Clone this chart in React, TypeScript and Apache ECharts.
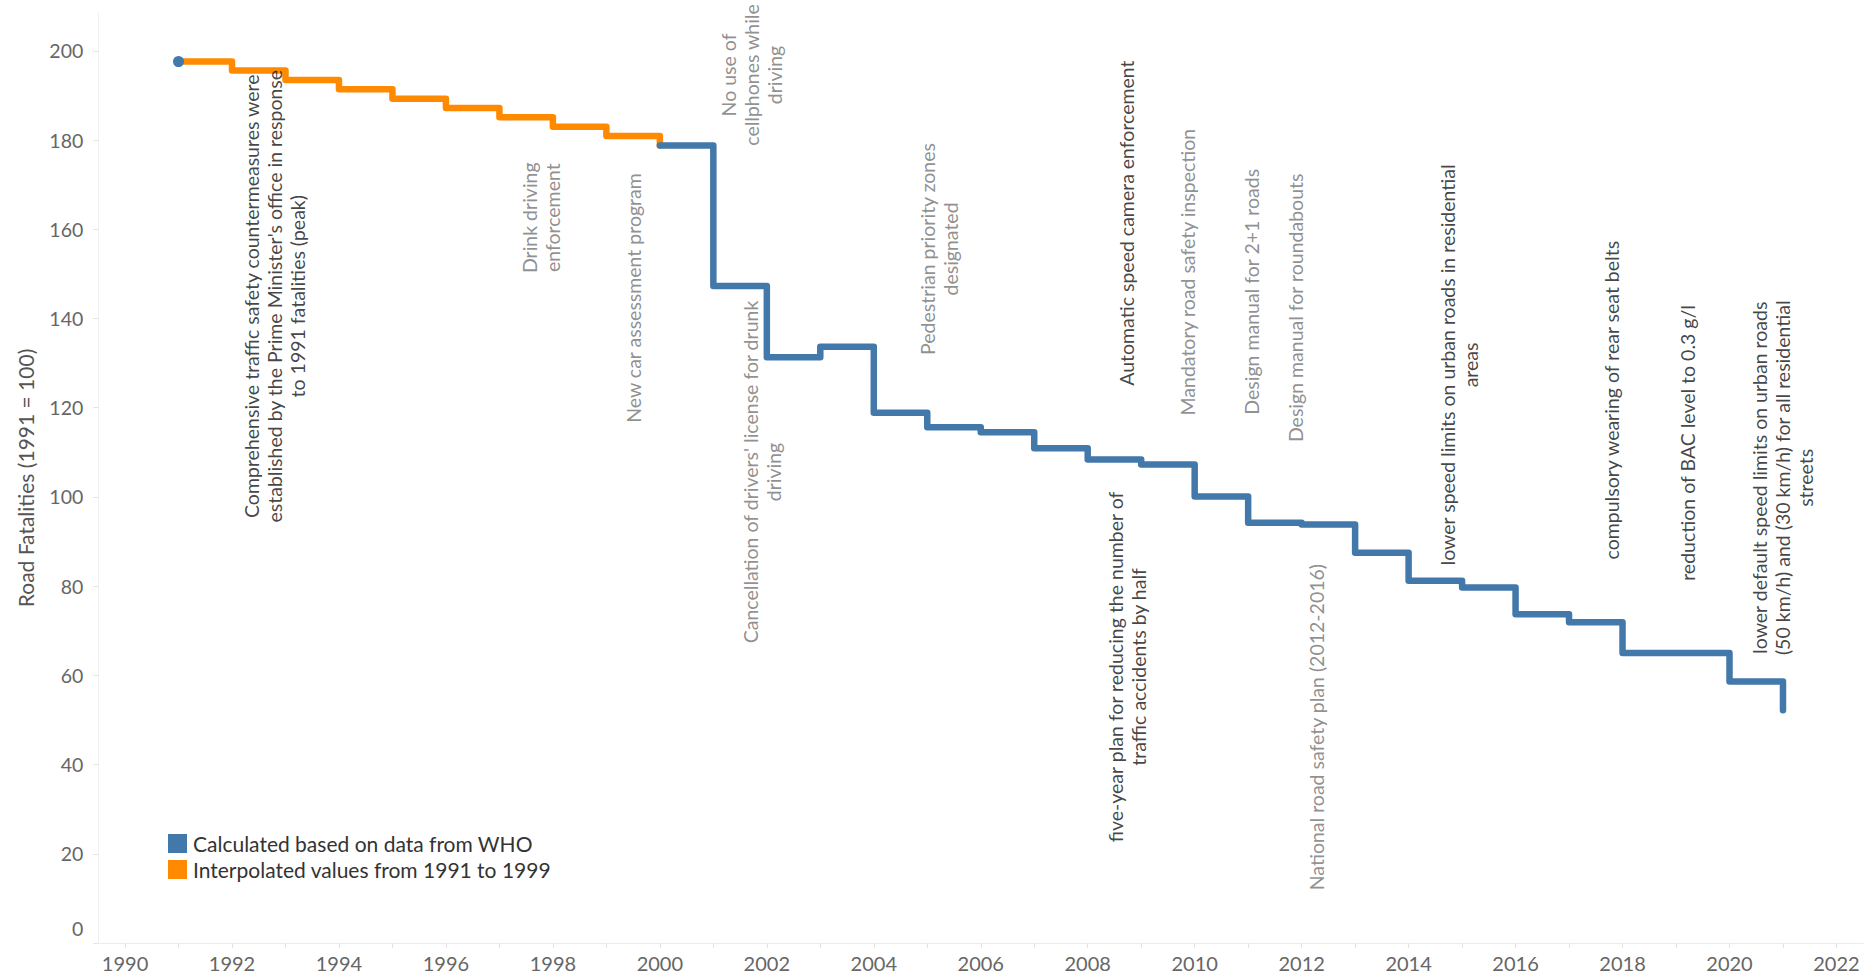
import React, { useEffect, useRef } from "react";
import * as echarts from "echarts";

const years: string[] = [
  "1990", "1991", "1992", "1993", "1994", "1995", "1996", "1997", "1998", "1999",
  "2000", "2001", "2002", "2003", "2004", "2005", "2006", "2007", "2008", "2009",
  "2010", "2011", "2012", "2013", "2014", "2015", "2016", "2017", "2018", "2019",
  "2020", "2021", "2022",
];

// Interpolated values 1991 → 2000 (index 0 = 1990)
const interpolated: (number | null)[] = [
  null, 197.6, 195.6, 193.5, 191.4, 189.3, 187.2, 185.1, 183.0, 180.9,
  178.8,
];

// WHO based values 2000 → 2021 (index 0 = 1990)
const who: (number | null)[] = [
  null, null, null, null, null, null, null, null, null, null,
  178.8, 147.3, 131.3, 133.7, 118.9, 115.6, 114.5, 110.9, 108.4, 107.3,
  100.1, 94.2, 93.8, 87.5, 81.2, 79.7, 73.7, 71.9, 65.0, 65.0,
  58.6, 52.2,
];

// WHO value for the 1991 base year, drawn as a point
const whoBase: [string, number][] = [["1991", 197.6]];

const yTicks: number[] = [0, 20, 40, 60, 80, 100, 120, 140, 160, 180, 200];

const seriesNames = {
  who: "Calculated based on data from WHO",
  interp: "Interpolated values from 1991 to 1999",
};

const DARK = "#141414";
const GRAY = "#737373";

type Note = { text: string; year: number; at: number; dark: boolean };

const notes: Note[] = [
  { text: "Comprehensive traffic safety countermeasures were\nestablished by the Prime Minister's office in response\nto 1991 fatalities (peak)", year: 1992.8, at: 145.0, dark: true },
  { text: "Drink driving\nenforcement", year: 1997.77, at: 162.6, dark: false },
  { text: "New car assessment program", year: 1999.5, at: 144.6, dark: false },
  { text: "No use of\ncellphones while\ndriving", year: 2001.71, at: 194.6, dark: false },
  { text: "Cancellation of drivers' license for drunk\ndriving", year: 2001.91, at: 105.6, dark: false },
  { text: "Pedestrian priority zones\ndesignated", year: 2005.22, at: 155.6, dark: false },
  { text: "Automatic speed camera enforcement", year: 2008.73, at: 161.4, dark: true },
  { text: "five-year plan for reducing the number of\ntraffic accidents by half", year: 2008.73, at: 61.9, dark: true },
  { text: "Mandatory road safety inspection", year: 2009.86, at: 150.4, dark: false },
  { text: "Design manual for 2+1 roads", year: 2011.07, at: 146.0, dark: false },
  { text: "Design manual for roundabouts", year: 2011.88, at: 142.4, dark: false },
  { text: "National road safety plan (2012-2016)", year: 2012.27, at: 48.4, dark: false },
  { text: "lower speed limits on urban roads in residential\nareas", year: 2014.94, at: 129.6, dark: true },
  { text: "compulsory wearing of rear seat belts", year: 2017.79, at: 121.7, dark: true },
  { text: "reduction of BAC level to 0.3 g/l", year: 2019.22, at: 112.1, dark: true },
  { text: "lower default speed limits on urban roads\n(50 km/h) and (30 km/h) for all residential\nstreets", year: 2021.0, at: 104.3, dark: true },
];

const FONT = "Lato";
const BLUE = "#4378aa";
const ORANGE = "#ff8a00";

export default function App() {
  const ref = useRef<HTMLDivElement>(null);

  useEffect(() => {
    document.body.style.margin = "0";
    if (!ref.current) return;
    const chart = echarts.init(ref.current, undefined, { renderer: "svg" });

    chart.setOption({
      animation: false,
      backgroundColor: "#ffffff",
      textStyle: { fontFamily: FONT },
      grid: { left: 98.3, right: 4.8, top: 13, bottom: 33, containLabel: false },
      legend: {
        orient: "vertical",
        left: 163,
        top: 828,
        itemWidth: 19,
        itemHeight: 19,
        itemGap: 5,
        icon: "rect",
        selectedMode: false,
        textStyle: { fontSize: 21, color: "#333333", fontFamily: FONT, padding: [0, 0, 0, 1] },
        data: [
          { name: seriesNames.who, itemStyle: { color: BLUE } },
          { name: seriesNames.interp, itemStyle: { color: ORANGE } },
        ],
      },
      xAxis: [
        {
          type: "category",
          data: years,
          boundaryGap: true,
          axisLine: { show: true, lineStyle: { color: "#ececec", width: 1 } },
          axisTick: { show: true, interval: 0, alignWithLabel: true, length: 5, lineStyle: { color: "#e3e3e3" } },
          axisLabel: { interval: 1, fontSize: 20, color: "#666666", margin: 10, fontFamily: FONT },
          splitLine: { show: false },
        },
        {
          type: "value",
          min: 1989.5,
          max: 2022.5,
          show: false,
          splitLine: { show: false },
        },
      ],
      yAxis: {
        type: "value",
        min: 0,
        max: 208.5,
        interval: 20,
        name: "Road Fatalities (1991 = 100)",
        nameLocation: "middle",
        nameRotate: 90,
        nameGap: 62,
        nameTextStyle: { fontSize: 21, color: "#555555", fontFamily: FONT },
        axisLine: { show: true, lineStyle: { color: "#f0f0f0", width: 1 } },
        axisTick: { show: true, length: 5, lineStyle: { color: "#e3e3e3" } },
        splitLine: { show: false },
        axisLabel: {
          fontSize: 19.5,
          color: "#666666",
          margin: 15,
          fontFamily: FONT,
          showMaxLabel: false,
          formatter: (v: number) => {
            if (!yTicks.includes(v)) return "";
            return v === 0 ? "{z|0}" : String(v);
          },
          rich: { z: { fontSize: 19.5, color: "#666666", fontFamily: FONT, padding: [0, 0, 30, 0] } },
        },
      },
      series: [
        {
          name: seriesNames.interp,
          type: "line",
          step: "end",
          data: interpolated,
          symbol: "none",
          connectNulls: false,
          color: ORANGE,
          lineStyle: { color: ORANGE, width: 6.5, cap: "round", join: "round" },
          z: 2,
        },
        {
          name: seriesNames.who,
          type: "line",
          step: "end",
          data: who,
          symbol: "none",
          connectNulls: false,
          color: BLUE,
          lineStyle: { color: BLUE, width: 6.5, cap: "round", join: "round" },
          z: 3,
        },
        {
          name: "whoBase",
          type: "scatter",
          data: whoBase,
          symbol: "circle",
          symbolSize: 11,
          itemStyle: { color: BLUE, opacity: 1 },
          z: 4,
          silent: true,
        },
        {
          name: "notes",
          type: "scatter",
          xAxisIndex: 1,
          yAxisIndex: 0,
          symbolSize: 1,
          itemStyle: { color: "rgba(0,0,0,0)" },
          silent: true,
          z: 5,
          data: notes.map((n) => ({
            value: [n.year, n.at],
            label: { color: n.dark ? DARK : GRAY },
          })),
          label: {
            show: true,
            position: "inside",
            rotate: 90,
            align: "center",
            verticalAlign: "middle",
            fontSize: 19.5,
            lineHeight: 23,
            fontFamily: FONT,
            formatter: (p: any) => notes[p.dataIndex].text,
          },
        },
      ],
    });

    return () => chart.dispose();
  }, []);

  return <div ref={ref} style={{ width: 1868, height: 976 }} />;
}
